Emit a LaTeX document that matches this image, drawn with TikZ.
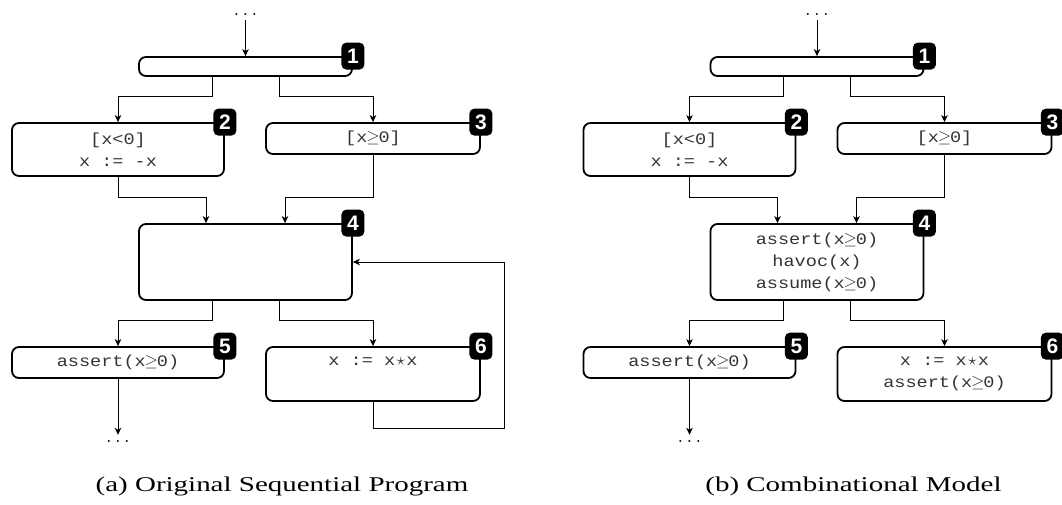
\documentclass[tikz,border=0pt]{standalone}
\usepackage{fontspec}
\usetikzlibrary{arrows.meta,calc}
\newfontfamily\codefont[FakeStretch=1.16]{Liberation Mono}
\newfontfamily\capfont[FakeStretch=1.38]{Liberation Serif}
\newfontfamily\badgefont{Liberation Sans}
% symbols set in one mono cell
\newcommand\mstar{\makebox[11.1pt]{$\star$}}
\newcommand\mgeq{\makebox[11.1pt]{$\geq$}}
\begin{document}
\begin{tikzpicture}[x=1pt,y=-1pt,
  box/.style={draw=black, line width=1.8pt, rounded corners=7pt, inner sep=0pt,
    align=center, text=black!80,
    font=\codefont\fontsize{16}{22}\selectfont},
  badge/.style={fill=black, rounded corners=5pt, minimum width=23pt,
    minimum height=27pt, inner sep=0pt, text=white,
    font=\badgefont\bfseries\fontsize{21}{21}\selectfont},
  conn/.style={draw=black, line width=0.9pt,
    -{Stealth[length=7pt,width=6.5pt,inset=2pt]}},
  dots/.style={inner sep=5pt, font=\fontsize{21}{21}\selectfont},
  caption/.style={anchor=base, font=\capfont\fontsize{21}{24}\selectfont}]
\useasboundingbox (0,0) rectangle (1062,504);

% ---------------- (a) original sequential program ----------------
\begin{scope}[name prefix=L-]
  \node[dots] (top) at (245.5,14) {$\ldots$};
  \node[box, minimum width=213pt, minimum height=19pt] (b1) at (245.5,66.5) {};
  \node[box, minimum width=212pt, minimum height=53pt] (b2) at (118,149.5) {[x<0]\\x := -x};
  \node[box, minimum width=214pt, minimum height=31pt] (b3) at (373,138.5) {[x\mgeq0]};
  \node[box, minimum width=213pt, minimum height=76pt] (b4) at (245.5,262) {};
  \node[box, minimum width=212pt, minimum height=31pt] (b5) at (118,362.5) {assert(x\mgeq0)};
  \node[box, minimum width=214pt, minimum height=54pt] (b6) at (373,374) {x := x\mstar x\\\phantom{assert(x\mgeq0)}};
  \node[dots] (bot) at (118,441) {$\ldots$};

  \node[badge] (n1) at (b1.north east) {1};
  \node[badge] (n2) at (b2.north east) {2};
  \node[badge] (n3) at (b3.north east) {3};
  \node[badge] (n4) at (b4.north east) {4};
  \node[badge] (n5) at (b5.north east) {5};
  \node[badge] (n6) at (b6.north east) {6};

  \draw[conn] (top.south) -- (b1.north);
  \draw[conn] ([xshift=-33.5pt]b1.south) -- ++(0,20) -| (b2.north);
  \draw[conn] ([xshift=33.5pt]b1.south) -- ++(0,20) -| (b3.north);
  \draw[conn] (b2.south) -- ++(0,21) -| ([xshift=-39.5pt]b4.north);
  \draw[conn] (b3.south) -- ++(0,43) -| ([xshift=39.5pt]b4.north);
  \draw[conn] ([xshift=-33.5pt]b4.south) -- ++(0,20) -| (b5.north);
  \draw[conn] ([xshift=33.5pt]b4.south) -- ++(0,20) -| (b6.north);
  \draw[conn] (b6.south) -- ++(0,27) -- ++(131,0) |- (b4.east);
  \draw[conn] (b5.south) -- (bot.north);

  \node[caption] (cap) at (282,491) {(a) Original Sequential Program};
\end{scope}

% ---------------- (b) combinational model ----------------
\begin{scope}[name prefix=R-, shift={(571.5,0)}]
  \node[dots] (top) at (245.5,14) {$\ldots$};
  \node[box, minimum width=213pt, minimum height=19pt] (b1) at (245.5,66.5) {};
  \node[box, minimum width=212pt, minimum height=53pt] (b2) at (118,149.5) {[x<0]\\x := -x};
  \node[box, minimum width=214pt, minimum height=31pt] (b3) at (373,138.5) {[x\mgeq0]};
  \node[box, minimum width=213pt, minimum height=76pt] (b4) at (245.5,262) {assert(x\mgeq0)\\havoc(x)\\assume(x\mgeq0)};
  \node[box, minimum width=212pt, minimum height=31pt] (b5) at (118,362.5) {assert(x\mgeq0)};
  \node[box, minimum width=214pt, minimum height=54pt] (b6) at (373,374) {x := x\mstar x\\assert(x\mgeq0)};
  \node[dots] (bot) at (118,441) {$\ldots$};

  \node[badge] (n1) at (b1.north east) {1};
  \node[badge] (n2) at (b2.north east) {2};
  \node[badge] (n3) at (b3.north east) {3};
  \node[badge] (n4) at (b4.north east) {4};
  \node[badge] (n5) at (b5.north east) {5};
  \node[badge] (n6) at (b6.north east) {6};

  \draw[conn] (top.south) -- (b1.north);
  \draw[conn] ([xshift=-33.5pt]b1.south) -- ++(0,20) -| (b2.north);
  \draw[conn] ([xshift=33.5pt]b1.south) -- ++(0,20) -| (b3.north);
  \draw[conn] (b2.south) -- ++(0,21) -| ([xshift=-39.5pt]b4.north);
  \draw[conn] (b3.south) -- ++(0,43) -| ([xshift=39.5pt]b4.north);
  \draw[conn] ([xshift=-33.5pt]b4.south) -- ++(0,20) -| (b5.north);
  \draw[conn] ([xshift=33.5pt]b4.south) -- ++(0,20) -| (b6.north);
  \draw[conn] (b5.south) -- (bot.north);

  \node[caption] (cap) at (282,491) {(b) Combinational Model};
\end{scope}
\end{tikzpicture}
\end{document}
